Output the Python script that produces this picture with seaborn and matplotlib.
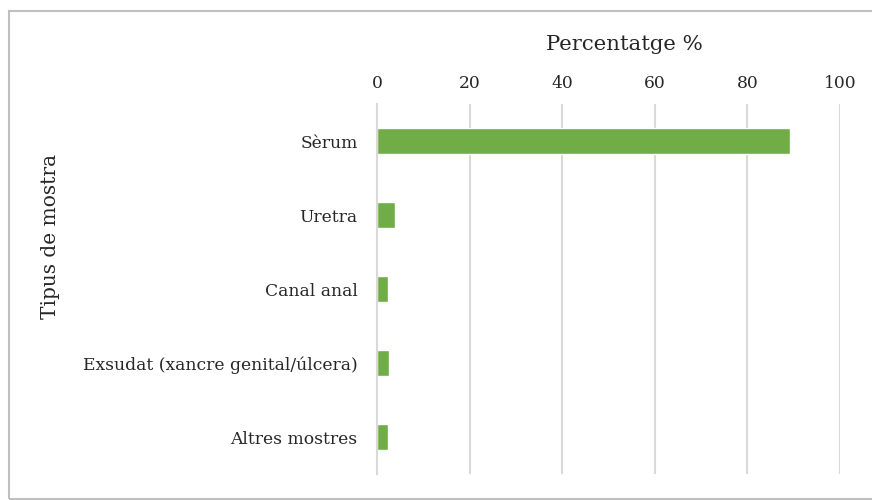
import matplotlib
matplotlib.use("Agg")
import matplotlib.pyplot as plt
import pandas as pd
import seaborn as sns
from matplotlib.patches import Rectangle

# data
categories = ["Sèrum", "Uretra", "Canal anal", "Exsudat (xancre genital/úlcera)", "Altres mostres"]
percentages = [89.1, 3.9, 2.3, 2.6, 2.3]
x_ticks = [0, 20, 40, 60, 80, 100]

GREEN = "#70AD47"
GRID = "#D9D9D9"
TEXT = "#262626"

df = pd.DataFrame({"tipus": categories, "pct": percentages})

sns.set_theme(style="white")
plt.rcParams["font.family"] = ["DejaVu Serif", "DejaVu Sans"]

fig = plt.figure(figsize=(8.72, 5.0), dpi=100)
ax = fig.add_axes([377 / 872, 1 - 474 / 500, (840 - 377) / 872, (474 - 104) / 500])

sns.barplot(data=df, x="pct", y="tipus", order=categories, color=GREEN,
            width=0.36, saturation=1, ax=ax)

ax.set_xlim(0, 100)
ax.set_xticks(x_ticks)
ax.xaxis.tick_top()
ax.tick_params(axis="x", length=0, pad=9, labelsize=12.3, colors=TEXT)
ax.tick_params(axis="y", length=0, pad=14, labelsize=12.3, colors=TEXT)
ax.grid(axis="x", color=GRID, linewidth=1.5)
ax.set_axisbelow(True)
for side in ["top", "right", "bottom"]:
    ax.spines[side].set_visible(False)
ax.spines["left"].set_color(GRID)
ax.spines["left"].set_linewidth(1.5)
ax.set_xlabel("")
ax.set_ylabel("")

fig.text(624 / 872, 1 - 44 / 500, "Percentatge %", ha="center", va="center",
         fontsize=15.3, color=TEXT)
fig.text(50 / 872, 1 - 236 / 500, "Tipus de mostra", ha="center", va="center",
         rotation=90, fontsize=14.5, color=TEXT)

# chart frame like the original (right edge falls outside the image)
fig.patches.append(Rectangle((9 / 872, 1 / 500), 870 / 872, 488 / 500,
                             transform=fig.transFigure, fill=False,
                             edgecolor="#BFBFBF", linewidth=1.5))

fig.savefig("out.png", dpi=100)
